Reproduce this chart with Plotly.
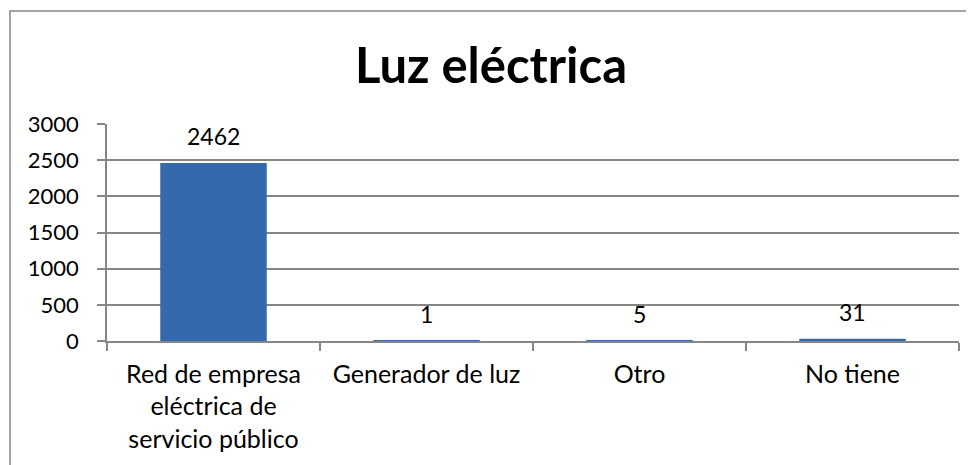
import plotly.graph_objects as go

# Categories and counts
categorias = ["Red de empresa<br>eléctrica de<br>servicio público", "Generador de luz", "Otro", "No tiene"]
valores = [2462, 1, 5, 31]
y_ticks = [0, 500, 1000, 1500, 2000, 2500, 3000]

FONT = "Lato"
GRIS = "#868686"

fig = go.Figure()
fig.add_trace(go.Bar(
    x=categorias,
    y=valores,
    marker=dict(color="#3469ae", line=dict(width=0)),
    width=0.5,
))

# data labels sitting a bit above each bar
for c, v in zip(categorias, valores):
    fig.add_annotation(
        x=c, y=v, text=str(v), showarrow=False,
        yanchor="middle", yshift=27,
        font=dict(family=FONT, size=23, color="#000000"),
    )

fig.update_layout(
    width=974,
    height=465,
    margin=dict(l=99, r=23, t=116, b=132),
    paper_bgcolor="white",
    plot_bgcolor="white",
    showlegend=False,
    title=dict(
        text="<b>Luz eléctrica</b>",
        x=(483 - 99) / 852, xref="paper", xanchor="center",
        y=0.875, yref="container", yanchor="middle",
        font=dict(family=FONT, size=49, color="#000000"),
    ),
    font=dict(family=FONT, size=22, color="#000000"),
)

fig.update_xaxes(
    showline=True, linecolor=GRIS, linewidth=1.5,
    ticks="outside", ticklen=8, tickcolor=GRIS, tickwidth=1.5,
    tickson="boundaries", showgrid=False, automargin=False,
    tickfont=dict(family=FONT, size=25, color="#000000"),
    ticklabelstandoff=10,
)
fig.update_yaxes(
    range=[0, 3000], tickvals=y_ticks,
    showline=True, linecolor=GRIS, linewidth=1.5,
    ticks="outside", ticklen=8, tickcolor=GRIS, tickwidth=1.5,
    showgrid=True, gridcolor=GRIS, gridwidth=1.5,
    zeroline=False, automargin=False,
    tickfont=dict(family=FONT, size=22, color="#000000"),
    ticklabelstandoff=14,
)

# chart outer border (runs off the right and bottom of the image)
fig.add_shape(
    type="rect", xref="paper", yref="paper",
    x0=(2 - 99) / 852, x1=1.2, y0=-0.8, y1=(333 - 3) / 217,
    line=dict(color=GRIS, width=1.5), layer="below",
)

fig.write_html("out.html")
